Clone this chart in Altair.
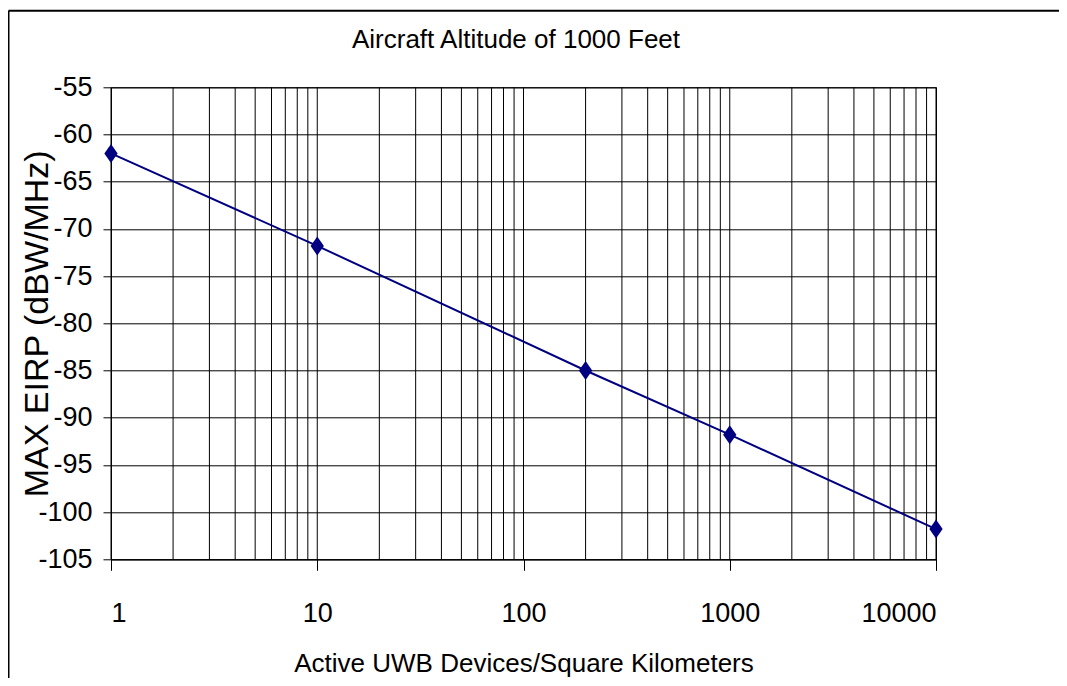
import altair as alt
import pandas as pd

# Data
devices = [1, 10, 200, 1000, 10000]
max_eirp = [-62.0, -71.8, -85.0, -91.8, -101.8]

x_major = [1, 10, 100, 1000, 10000]
x_grid = [m * 10 ** e for e in range(4) for m in range(1, 10)] + [10000]
y_ticks = [-105, -100, -95, -90, -85, -80, -75, -70, -65, -60, -55]

title_text = "Aircraft Altitude of 1000 Feet"
x_title = "Active UWB Devices/Square Kilometers"
y_title = "MAX EIRP (dBW/MHz)"

FONT = "Liberation Sans, Arial"
NAVY = "#000080"

W, H = 825, 472
PAD_L, PAD_T = 103, 79.3
TOTAL_W, TOTAL_H = 1051, 670

df = pd.DataFrame({"x": devices, "y": max_eirp})
grid_df = pd.DataFrame({"x": x_grid})

x_scale = alt.Scale(type="log", domain=[1, 10000], nice=False)
y_scale = alt.Scale(domain=[-105, -55], nice=False, zero=False)

x_axis = alt.Axis(
    values=x_major, format="d", grid=False,
    tickSize=11, labelPadding=51, labelBaseline="alphabetic",
    labelFont=FONT, labelFontSize=27,
    title=x_title, titleFont=FONT, titleFontSize=26, titleFontWeight="normal",
    titleBaseline="alphabetic", titleY=112,
)
y_axis = alt.Axis(
    values=y_ticks, labelExpr="'' + datum.value", grid=True,
    tickSize=8, labelPadding=11, labelFont=FONT, labelFontSize=27,
    title=y_title, titleFont=FONT, titleFontSize=34, titleFontWeight="normal",
    titleBaseline="alphabetic", titleX=-64,
)

grid = alt.Chart(grid_df).mark_rule(color="black", strokeWidth=1).encode(
    x=alt.X("x:Q", scale=x_scale, axis=x_axis),
)

line = alt.Chart(df).mark_line(color=NAVY, strokeWidth=2).encode(
    x=alt.X("x:Q", scale=x_scale, axis=x_axis),
    y=alt.Y("y:Q", scale=y_scale, axis=y_axis),
)

pts = alt.Chart(df).mark_point(
    shape="M0,-1L0.7,0L0,1L-0.7,0Z", filled=True, size=361, color=NAVY, opacity=1
).encode(
    x=alt.X("x:Q", scale=x_scale, axis=x_axis),
    y=alt.Y("y:Q", scale=y_scale, axis=y_axis),
)

single = alt.Data(values=[{"a": 1}])
frame_top = alt.Chart(single).mark_rule(color="black", strokeWidth=2).encode(
    x=alt.value(-102.5), x2=alt.value(TOTAL_W - PAD_L), y=alt.value(-76.6)
)
frame_left = alt.Chart(single).mark_rule(color="black", strokeWidth=2).encode(
    x=alt.value(-102.5), y=alt.value(-76.6), y2=alt.value(TOTAL_H - PAD_T)
)
title = alt.Chart(single).mark_text(
    font=FONT, fontSize=26, color="black", align="center", baseline="alphabetic"
).encode(
    text=alt.value(title_text), x=alt.value(405), y=alt.value(-39.3)
)

chart = alt.layer(grid, line, pts, frame_top, frame_left, title).properties(
    width=W, height=H,
    autosize=alt.AutoSizeParams(type="none"),
    padding={"left": PAD_L, "top": PAD_T, "right": TOTAL_W - PAD_L - W,
             "bottom": TOTAL_H - PAD_T - H},
).configure_axis(
    domainColor="black", tickColor="black", gridColor="black", gridOpacity=1,
    labelColor="black", titleColor="black", domainWidth=1, tickWidth=1,
).configure_view(stroke="black", strokeWidth=1)

chart.save("out.html", embed_options={"renderer": "svg", "actions": False})
